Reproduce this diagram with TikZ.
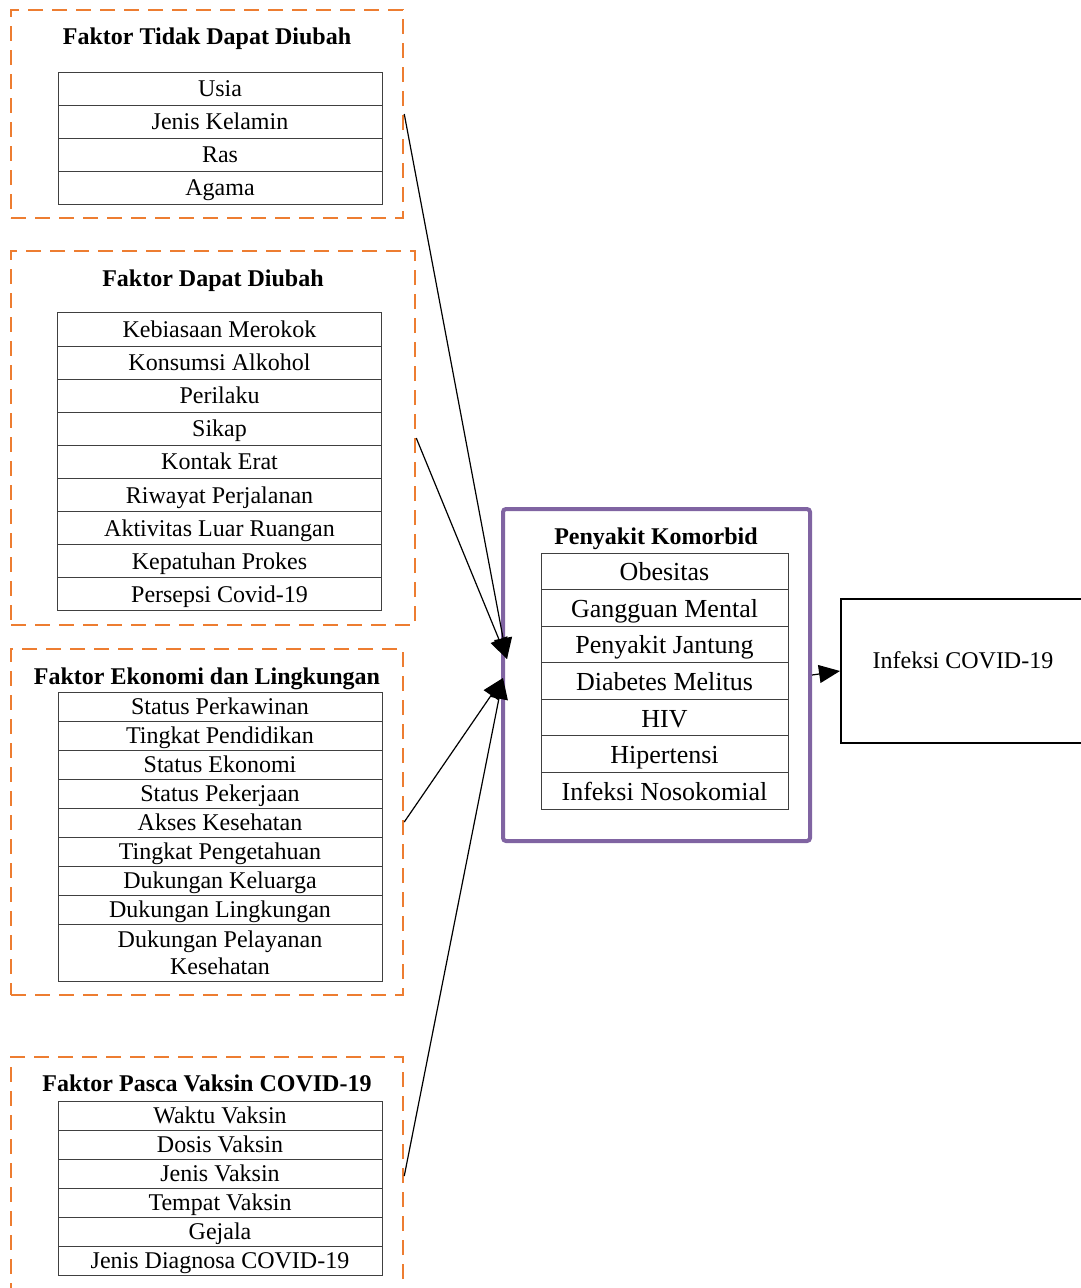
\documentclass[tikz,border=0pt]{standalone}
\usepackage{fontspec}
\setmainfont{Liberation Serif}
\usetikzlibrary{arrows.meta,calc}
\definecolor{oranye}{HTML}{ED7D31}
\definecolor{ungu}{HTML}{8064A2}
\tikzset{
	faktor/.style	= {draw=oranye, line width=2.5pt, dash pattern=on 15pt off 9pt, minimum width=392pt, inner sep=0pt},
	judul/.style	= {font=\fontsize{24}{28}\selectfont\bfseries, text height=18pt, text depth=2pt},
	kotak/.style	= {draw=black!75, line width=1pt, inner sep=0pt, minimum width=324pt, font=\fontsize{24}{27}\selectfont},
	baris/.style	= {kotak, minimum height=#1, text height=18pt, text depth=2pt},
	baris/.default	= 33pt,
	komorbid/.style	= {draw=ungu, line width=4pt, rounded corners=3pt, minimum width=307pt, minimum height=332pt},
	penyakit/.style	= {draw=black!75, line width=1pt, inner sep=0pt, minimum width=247pt, minimum height=36.6pt, font=\fontsize{26}{30}\selectfont, text height=21pt, text depth=2pt},
	hasil/.style	= {draw, line width=2pt, minimum width=244pt, minimum height=144pt, font=\fontsize{24}{27}\selectfont, text height=17pt, text depth=22pt},
	panah/.style	= {-{Triangle[length=21pt,width=18pt]}, line width=1.2pt}
}
\begin{document}
\begin{tikzpicture}[x=1pt, y=-1pt]
	\useasboundingbox (0,0) rectangle (1081,1288);
	% faktor tidak dapat diubah
	\node (FA) at (207,  114)	[faktor, minimum height=208pt]	{};
	\node (TA) at (207,   36)	[judul]	{Faktor Tidak Dapat Diubah};
	\node (A1) at (220,  88.5)	[baris]	{Usia};
	\node (A2) at (220, 121.5)	[baris]	{Jenis Kelamin};
	\node (A3) at (220, 154.5)	[baris]	{Ras};
	\node (A4) at (220, 187.5)	[baris]	{Agama};
	% faktor dapat diubah
	\node (FB) at (213,  438)	[faktor, minimum width=404pt, minimum height=374pt]	{};
	\node (TB) at (213,  278)	[judul]	{Faktor Dapat Diubah};
	\node (B1) at (219.5, 329.5)	[baris=33.1pt]	{Kebiasaan Merokok};
	\node (B2) at (219.5, 362.6)	[baris=33.1pt]	{Konsumsi Alkohol};
	\node (B3) at (219.5, 395.7)	[baris=33.1pt]	{Perilaku};
	\node (B4) at (219.5, 428.8)	[baris=33.1pt]	{Sikap};
	\node (B5) at (219.5, 461.9)	[baris=33.1pt]	{Kontak Erat};
	\node (B6) at (219.5, 495.0)	[baris=33.1pt]	{Riwayat Perjalanan};
	\node (B7) at (219.5, 528.1)	[baris=33.1pt]	{Aktivitas Luar Ruangan};
	\node (B8) at (219.5, 561.2)	[baris=33.1pt]	{Kepatuhan Prokes};
	\node (B9) at (219.5, 594.3)	[baris=33.1pt]	{Persepsi Covid-19};
	% faktor ekonomi dan lingkungan
	\node (FC) at (207,  822)	[faktor, minimum height=346pt]	{};
	\node (TC) at (207,  676)	[judul]	{Faktor Ekonomi dan Lingkungan};
	\node (C1) at (220, 706.5)	[baris=29pt]	{Status Perkawinan};
	\node (C2) at (220, 735.5)	[baris=29pt]	{Tingkat Pendidikan};
	\node (C3) at (220, 764.5)	[baris=29pt]	{Status Ekonomi};
	\node (C4) at (220, 793.5)	[baris=29pt]	{Status Pekerjaan};
	\node (C5) at (220, 822.5)	[baris=29pt]	{Akses Kesehatan};
	\node (C6) at (220, 851.5)	[baris=29pt]	{Tingkat Pengetahuan};
	\node (C7) at (220, 880.5)	[baris=29pt]	{Dukungan Keluarga};
	\node (C8) at (220, 909.5)	[baris=29pt]	{Dukungan Lingkungan};
	\node (C9) at (220, 952.5)	[kotak, minimum height=57pt, align=center]	{Dukungan Pelayanan\\Kesehatan};
	% faktor pasca vaksin
	\node (FD) at (207, 1176)	[faktor, minimum height=238pt]	{};
	\node (TD) at (207, 1083)	[judul]	{Faktor Pasca Vaksin COVID-19};
	\node (D1) at (220, 1115.5)	[baris=29pt]	{Waktu Vaksin};
	\node (D2) at (220, 1144.5)	[baris=29pt]	{Dosis Vaksin};
	\node (D3) at (220, 1173.5)	[baris=29pt]	{Jenis Vaksin};
	\node (D4) at (220, 1202.5)	[baris=29pt]	{Tempat Vaksin};
	\node (D5) at (220, 1231.5)	[baris=29pt]	{Gejala};
	\node (D6) at (220, 1260.5)	[baris=29pt]	{Jenis Diagnosa COVID-19};
	% penyakit komorbid
	\node (K) at (656.5, 675)	[komorbid]	{};
	\node (TK) at (656, 536)	[judul]	{Penyakit Komorbid};
	\node (K1) at (664.5, 571.3)	[penyakit]	{Obesitas};
	\node (K2) at (664.5, 607.9)	[penyakit]	{Gangguan Mental};
	\node (K3) at (664.5, 644.4)	[penyakit]	{Penyakit Jantung};
	\node (K4) at (664.5, 681.0)	[penyakit]	{Diabetes Melitus};
	\node (K5) at (664.5, 717.6)	[penyakit]	{HIV};
	\node (K6) at (664.5, 754.1)	[penyakit]	{Hipertensi};
	\node (K7) at (664.5, 790.7)	[penyakit]	{Infeksi Nosokomial};
	% infeksi
	\node (I) at (963, 671)	[hasil]	{Infeksi COVID-19};
	\coordinate (KA) at ($(K.west)+(6,-16)$);
	\coordinate (KB) at ($(K.west)+(2,3)$);
	\draw[panah] (FA.east) -- (KA);
	\draw[panah] (FB.east) -- (KA);
	\draw[panah] (FC.east) -- (KB);
	\draw[panah] (FD.east) -- (KB);
	\draw[panah] (K.east) -- (I.west);
\end{tikzpicture}
\end{document}
